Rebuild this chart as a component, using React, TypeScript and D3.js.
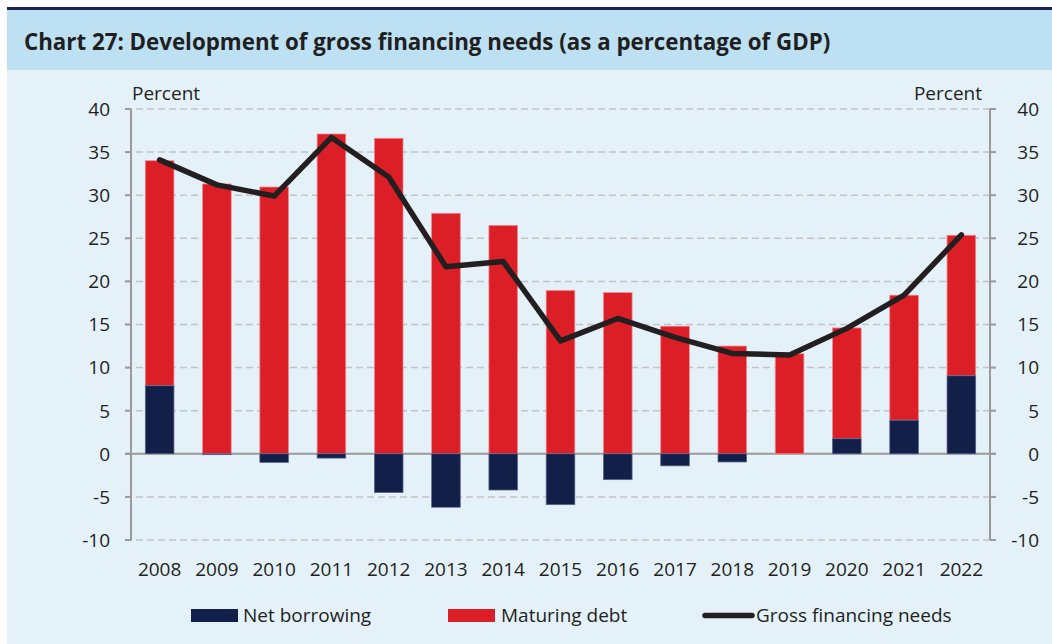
import React from "react";
import * as d3 from "d3";

const years = ["2008","2009","2010","2011","2012","2013","2014","2015","2016","2017","2018","2019","2020","2021","2022"];
const netBorrowing = [7.9, -0.1, -1.0, -0.5, -4.5, -6.2, -4.2, -5.9, -3.0, -1.4, -0.95, 0.0, 1.75, 3.9, 9.05];
const maturingDebt = [26.1, 31.3, 30.95, 37.1, 36.6, 27.9, 26.5, 18.95, 18.7, 14.8, 12.5, 11.6, 12.85, 14.5, 16.3];
const grossFinancing = [34.1, 31.2, 29.9, 36.7, 32.1, 21.7, 22.3, 13.1, 15.7, 13.5, 11.65, 11.45, 14.55, 18.4, 25.4];
const yTicks = [-10, -5, 0, 5, 10, 15, 20, 25, 30, 35, 40];

const NAVY = "#121f48";
const RED = "#dc1f27";
const LINE = "#231f20";
const FONT = "'Open Sans', sans-serif";

export default function App() {
  const left = 131, right = 990, top = 109, bottom = 540;
  const x = d3.scaleBand<string>().domain(years).range([left, right]).paddingInner(0.5).paddingOuter(0.25);
  const y = d3.scaleLinear().domain([-10, 40]).range([bottom, top]);
  const bw = x.bandwidth();
  const cx = (yr: string) => (x(yr) as number) + bw / 2;

  const line = d3.line<number>()
    .x((_, i) => cx(years[i]))
    .y((d) => y(d));

  return (
    <svg width={1052} height={644} style={{ position: "absolute", left: 0, top: 0, display: "block" }}>
      <rect x={7} y={8} width={1045} height={636} fill="#e4f1f8" />
      <rect x={7} y={10} width={1045} height={60} fill="#bde0f2" />
      <rect x={7} y={7} width={1045} height={3} fill="#1b2452" />
      <text x={24} y={50} fontFamily={FONT} fontWeight={700} fontSize={22.3} fill="#1f1f1f">
        Chart 27: Development of gross financing needs (as a percentage of GDP)
      </text>

      {/* grid */}
      {yTicks.map((t) => (
        <line key={"g" + t} x1={left - 6} x2={right + 6} y1={y(t)} y2={y(t)}
          stroke={t === 0 ? "#9a9a9a" : "#c3c3c3"} strokeWidth={t === 0 ? 2 : 1.5}
          strokeDasharray={t === 0 ? undefined : "7,4"} />
      ))}
      {/* axes */}
      <line x1={left} x2={left} y1={top} y2={bottom} stroke="#9a9a9a" strokeWidth={2} />
      <line x1={right} x2={right} y1={top} y2={bottom} stroke="#9a9a9a" strokeWidth={2} />
      {yTicks.map((t) => (
        <g key={"t" + t}>
          <line x1={left - 6} x2={left} y1={y(t)} y2={y(t)} stroke="#9a9a9a" strokeWidth={2} />
          <line x1={right} x2={right + 6} y1={y(t)} y2={y(t)} stroke="#9a9a9a" strokeWidth={2} />
          <text x={110} y={y(t)} dy="0.36em" textAnchor="end" fontFamily={FONT} fontSize={19} fill="#231f20">{t}</text>
          <text x={1039} y={y(t)} dy="0.36em" textAnchor="end" fontFamily={FONT} fontSize={19} fill="#231f20">{t}</text>
        </g>
      ))}
      <text x={132} y={100} fontFamily={FONT} fontSize={19} fill="#231f20">Percent</text>
      <text x={982} y={100} textAnchor="end" fontFamily={FONT} fontSize={19} fill="#231f20">Percent</text>

      {/* bars */}
      {years.map((yr, i) => {
        const nb = netBorrowing[i];
        const md = maturingDebt[i];
        const base = nb > 0 ? nb : 0;
        const x0 = x(yr) as number;
        return (
          <g key={yr}>
            <rect x={x0} width={bw} y={y(base + md)} height={y(base) - y(base + md)} fill={RED} stroke="#ec8a90" strokeWidth={0.75} />
            {nb !== 0 && (
              <rect x={x0} width={bw} y={y(Math.max(nb, 0))} height={Math.abs(y(nb) - y(0))} fill={NAVY} stroke="#5a6690" strokeWidth={0.75} />
            )}
          </g>
        );
      })}

      <path d={line(grossFinancing) || ""} fill="none" stroke={LINE} strokeWidth={5.5} strokeLinejoin="round" strokeLinecap="round" />

      {years.map((yr) => (
        <text key={"x" + yr} x={cx(yr)} y={576} textAnchor="middle" fontFamily={FONT} fontSize={19} fill="#231f20">{yr}</text>
      ))}

      {/* legend */}
      <rect x={191} y={609} width={47} height={13} fill={NAVY} />
      <text x={243} y={622} fontFamily={FONT} fontSize={19} fill="#231f20">Net borrowing</text>
      <rect x={448} y={609} width={47} height={13} fill={RED} />
      <text x={501} y={622} fontFamily={FONT} fontSize={19} fill="#231f20">Maturing debt</text>
      <line x1={705} x2={752} y1={615.5} y2={615.5} stroke={LINE} strokeWidth={5.5} strokeLinecap="round" />
      <text x={756} y={622} fontFamily={FONT} fontSize={19} fill="#231f20">Gross financing needs</text>
    </svg>
  );
}
